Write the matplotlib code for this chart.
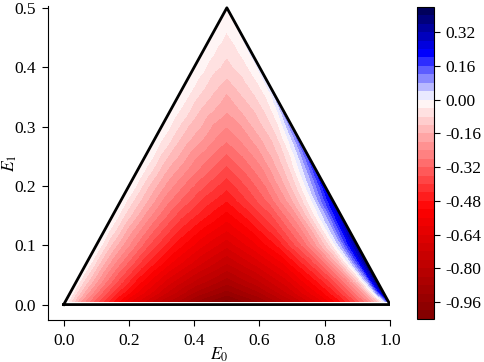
import numpy as np
import matplotlib
matplotlib.use("Agg")
import matplotlib.pyplot as plt
from matplotlib.colors import TwoSlopeNorm
import matplotlib.tri as mtri

plt.rcParams['font.family'] = ['Liberation Serif', 'DejaVu Serif']
plt.rcParams['mathtext.fontset'] = 'stix'
plt.rcParams['font.size'] = 12.5

# data -------------------------------------------------------------
# E1 of each sample row, and position along the row (0 = left edge E1=E0, 1 = right edge E0+E1=1)
rows_y = [0.005, 0.02, 0.04, 0.07, 0.1, 0.125, 0.15, 0.175, 0.2, 0.225, 0.25, 0.275,
          0.3, 0.325, 0.35, 0.375, 0.4, 0.425, 0.45, 0.475]
frac = [0, 0.02, 0.05, 0.1, 0.15, 0.2, 0.3, 0.4, 0.5, 0.6, 0.7, 0.8, 0.85, 0.9, 0.94, 0.97, 0.99, 1.0]

# values, one list per row
v_0005 = [0, -0.09, -0.21, -0.36, -0.49, -0.60, -0.78, -0.92, -1.02, -0.92, -0.78, -0.60, -0.49, -0.36, -0.24, -0.11, 0.04, 0.20]
v_0020 = [0, -0.08, -0.18, -0.32, -0.44, -0.54, -0.71, -0.85, -0.94, -0.85, -0.71, -0.54, -0.44, -0.31, -0.18, 0.003, 0.22, 0.40]
v_0040 = [0, -0.07, -0.15, -0.28, -0.39, -0.49, -0.65, -0.77, -0.86, -0.77, -0.65, -0.48, -0.38, -0.25, -0.09, 0.10, 0.29, 0.41]
v_0070 = [0, -0.05, -0.13, -0.24, -0.33, -0.42, -0.56, -0.67, -0.76, -0.67, -0.56, -0.39, -0.28, -0.14, 0.02, 0.18, 0.32, 0.40]
v_0100 = [0, -0.04, -0.11, -0.20, -0.28, -0.36, -0.49, -0.59, -0.67, -0.58, -0.47, -0.30, -0.19, -0.06, 0.08, 0.21, 0.31, 0.37]
v_0125 = [0, -0.04, -0.09, -0.18, -0.25, -0.32, -0.44, -0.53, -0.60, -0.52, -0.41, -0.26, -0.16, -0.03, 0.09, 0.20, 0.29, 0.34]
v_0150 = [0, -0.03, -0.08, -0.15, -0.22, -0.28, -0.39, -0.47, -0.54, -0.46, -0.36, -0.22, -0.12, -0.01, 0.09, 0.19, 0.26, 0.30]
v_0175 = [0, -0.03, -0.07, -0.13, -0.19, -0.25, -0.34, -0.42, -0.48, -0.40, -0.31, -0.18, -0.10, -0.004, 0.10, 0.18, 0.24, 0.27]
v_0200 = [0, -0.02, -0.06, -0.12, -0.17, -0.22, -0.30, -0.37, -0.43, -0.36, -0.28, -0.16, -0.09, -0.004, 0.08, 0.15, 0.21, 0.24]
v_0225 = [0, -0.02, -0.05, -0.10, -0.15, -0.19, -0.26, -0.32, -0.38, -0.32, -0.25, -0.15, -0.09, -0.01, 0.06, 0.13, 0.18, 0.21]
v_0250 = [0, -0.02, -0.04, -0.09, -0.13, -0.16, -0.23, -0.28, -0.33, -0.28, -0.22, -0.14, -0.09, -0.03, 0.04, 0.10, 0.15, 0.18]
v_0275 = [0, -0.02, -0.04, -0.07, -0.11, -0.14, -0.19, -0.24, -0.28, -0.24, -0.19, -0.13, -0.09, -0.03, 0.02, 0.08, 0.13, 0.15]
v_0300 = [0, -0.01, -0.03, -0.06, -0.09, -0.12, -0.16, -0.21, -0.24, -0.21, -0.16, -0.11, -0.08, -0.04, 0.01, 0.06, 0.10, 0.13]
v_0325 = [0, -0.01, -0.03, -0.05, -0.07, -0.10, -0.14, -0.17, -0.20, -0.17, -0.14, -0.10, -0.07, -0.04, -0.01, 0.03, 0.08, 0.11]
v_0350 = [0, -0.01, -0.02, -0.04, -0.06, -0.08, -0.11, -0.14, -0.17, -0.14, -0.11, -0.08, -0.06, -0.04, -0.02, 0.004, 0.04, 0.09]
v_0375 = [0, -0.01, -0.02, -0.03, -0.05, -0.06, -0.09, -0.11, -0.13, -0.11, -0.09, -0.06, -0.05, -0.03, -0.02, 0.004, 0.03, 0.08]
v_0400 = [0, -0.003, -0.01, -0.02, -0.03, -0.05, -0.07, -0.08, -0.10, -0.08, -0.07, -0.05, -0.03, -0.02, -0.01, 0.003, 0.02, 0.06]
v_0425 = [0, -0.003, -0.01, -0.02, -0.02, -0.03, -0.05, -0.06, -0.07, -0.06, -0.05, -0.03, -0.02, -0.02, -0.01, 0.003, 0.01, 0.04]
v_0450 = [0, -0.003, -0.01, -0.01, -0.01, -0.02, -0.03, -0.04, -0.05, -0.04, -0.03, -0.02, -0.01, -0.01, -0.01, 0.003, 0.01, 0.03]
v_0475 = [0, -0.003, -0.004, -0.006, -0.01, -0.01, -0.01, -0.02, -0.02, -0.02, -0.01, -0.01, -0.01, -0.005, -0.003, 0.003, 0.01, 0.02]
v_apex = 0.0

rows_v = [v_0005, v_0020, v_0040, v_0070, v_0100, v_0125, v_0150, v_0175, v_0200, v_0225,
          v_0250, v_0275, v_0300, v_0325, v_0350, v_0375, v_0400, v_0425, v_0450, v_0475]

cbar_ticks = [-0.96, -0.80, -0.64, -0.48, -0.32, -0.16, 0.00, 0.16, 0.32]

# sample points inside the triangle (0,0)-(1,0)-(0.5,0.5)
xs, ys, vs = [], [], []
for y, row in zip(rows_y, rows_v):
    for s, v in zip(frac, row):
        xs.append(y + (1 - 2 * y) * s)
        ys.append(y)
        vs.append(v)
xs.append(0.5); ys.append(0.5); vs.append(v_apex)

# mesh that follows the rows, so no triangle crosses the E0 = 0.5 line
nr, nf = len(rows_y), len(frac)
tris = []
for j in range(nr - 1):
    for i in range(nf - 1):
        a = j * nf + i
        b = (j + 1) * nf + i
        tris.append([a, a + 1, b])
        tris.append([a + 1, b + 1, b])
top = nr * nf
for i in range(nf - 1):
    a = (nr - 1) * nf + i
    tris.append([a, a + 1, top])
tri = mtri.Triangulation(xs, ys, tris)

### plot -----------------------------------------------------------
fig = plt.figure(figsize=(4.84, 3.62), dpi=100)
ax = fig.add_axes([0.0992, 0.116, 0.7066, 0.8674])
levels = np.arange(-1.04, 0.4401, 0.04)
norm = TwoSlopeNorm(vcenter=0.0, vmin=-1.04, vmax=0.44)
cs = ax.tricontourf(tri, vs, levels=levels, cmap='seismic_r', norm=norm)
ax.plot([0, 1, 0.5, 0], [0, 0, 0.5, 0], color='black', lw=2)   # triangle outline

ax.set_xlim(-0.048, 1.0)
ax.set_ylim(-0.026, 0.503)
ax.spines['top'].set_visible(False)
ax.spines['right'].set_visible(False)
ax.tick_params(length=4, pad=5)
ax.set_xlabel('$E_0$')
ax.set_ylabel('$E_1$')
ax.xaxis.set_label_coords(0.5, -0.08)
ax.yaxis.set_label_coords(-0.085, 0.5)

cax = fig.add_axes([0.862, 0.119, 0.035, 0.862])
cb = fig.colorbar(cs, cax=cax, ticks=cbar_ticks)
cb.ax.set_yticklabels(['%.2f' % t for t in cbar_ticks])
cb.ax.tick_params(length=4, pad=4)

fig.savefig('out.png', dpi=100)
